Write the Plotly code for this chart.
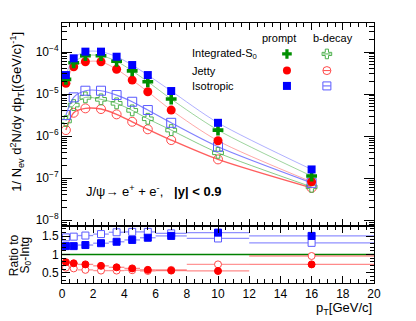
import plotly.graph_objects as go

# ---------------- data ----------------
pt = [0.25, 0.75, 1.5, 2.5, 3.5, 4.5, 5.5, 7.0, 10.0, 16.0]
pt_halfwidth = [0.25, 0.25, 0.5, 0.5, 0.5, 0.5, 0.5, 1.0, 2.0, 4.0]

iso_prompt = [2.83e-5, 7.08e-5, 1.02e-4, 1.02e-4, 7.73e-5, 4.90e-5, 2.83e-5, 1.18e-5, 2.07e-6, 1.61e-7]
int_prompt = [2.24e-5, 5.56e-5, 8.17e-5, 8.17e-5, 6.01e-5, 3.56e-5, 1.96e-5, 7.60e-6, 1.39e-6, 1.12e-7]
jet_prompt = [1.80e-5, 4.47e-5, 5.87e-5, 5.87e-5, 3.89e-5, 2.15e-5, 1.135e-5, 4.16e-6, 7.73e-7, 8.17e-8]

iso_b = [3.16e-6, 8.34e-6, 1.20e-5, 1.20e-5, 9.46e-6, 6.56e-6, 4.16e-6, 2.07e-6, 5.56e-7, 7.73e-8]
int_b = [2.28e-6, 5.47e-6, 8.34e-6, 7.48e-6, 6.01e-6, 4.09e-6, 2.58e-6, 1.39e-6, 4.00e-7, 6.20e-8]
jet_b = [1.39e-6, 3.59e-6, 4.57e-6, 4.40e-6, 3.29e-6, 2.19e-6, 1.45e-6, 8.04e-7, 2.79e-7, 5.87e-8]

ratio_iso_prompt = [1.23, 1.23, 1.26, 1.31, 1.35, 1.40, 1.46, 1.51, 1.60, 1.51]
ratio_iso_b = [1.47, 1.49, 1.52, 1.56, 1.61, 1.62, 1.62, 1.58, 1.44, 1.32]
ratio_jet_prompt = [0.79, 0.76, 0.73, 0.69, 0.65, 0.62, 0.58, 0.56, 0.55, 0.73]
ratio_jet_b = [0.64, 0.62, 0.58, 0.56, 0.56, 0.57, 0.55, 0.58, 0.73, 0.96]

x_ticks = [0, 2, 4, 6, 8, 10, 12, 14, 16, 18, 20]
y_ticks = [1e-8, 1e-7, 1e-6, 1e-5, 1e-4]
y_ticktext = ["10<sup>−8</sup>", "10<sup>−7</sup>", "10<sup>−6</sup>", "10<sup>−5</sup>", "10<sup>−4</sup>"]
r_ticks = [0.5, 1.0, 1.5]
r_ticktext = ["0.5", "1", "1.5"]

# ---------------- styles ----------------
FONT = "Liberation Sans, Arial, sans-serif"
BLUE, GREEN, RED = "#0000ff", "#008f00", "#ff0000"
BLUE_O, GREEN_O, RED_O = "#5a5aff", "#4cb04c", "#ff4a4a"

fig = go.Figure()

def upper(y, sym, col, lcol, size, lw=1.0, mlw=0):
    fig.add_trace(go.Scatter(
        x=pt, y=y, mode="lines+markers", xaxis="x", yaxis="y",
        line=dict(color=lcol, width=lw, shape="spline", smoothing=0.8),
        marker=dict(symbol=sym, size=size, color=col,
                    line=dict(color=col, width=mlw)),
        showlegend=False, hoverinfo="skip"))

upper(jet_b, "circle-open", RED_O, "rgba(255,40,40,0.75)", 9, 1.4, 1)
upper(int_b, "cross-open", GREEN_O, "rgba(40,160,40,0.55)", 9, 1.0, 1)
upper(iso_b, "square-open", BLUE_O, "rgba(60,60,255,0.65)", 9, 1.2, 1)
upper(jet_prompt, "circle", RED, "rgba(255,60,60,0.45)", 9, 1.0)
upper(int_prompt, "cross", GREEN, "rgba(40,160,40,0.45)", 9, 1.0)
upper(iso_prompt, "square", BLUE, "rgba(80,80,255,0.45)", 8, 1.0)

def lower(y, sym, col, fill, ecol, size):
    fig.add_trace(go.Scatter(
        x=pt, y=y, mode="markers", xaxis="x2", yaxis="y2",
        error_x=dict(type="data", array=pt_halfwidth, color=ecol, thickness=1.3, width=0),
        marker=dict(symbol=sym, size=size, color=fill, line=dict(color=col, width=1)),
        showlegend=False, hoverinfo="skip"))

fig.add_trace(go.Scatter(x=[x_ticks[0], x_ticks[-1]], y=[1, 1], mode="lines",
                         xaxis="x2", yaxis="y2", line=dict(color="#008000", width=1.5),
                         showlegend=False, hoverinfo="skip"))
lower(ratio_jet_b, "circle", RED_O, "white", "rgba(255,80,80,0.6)", 7)
lower(ratio_jet_prompt, "circle", RED, RED, "rgba(255,60,60,0.6)", 7)
lower(ratio_iso_b, "square", BLUE_O, "white", "rgba(70,70,255,0.6)", 7)
lower(ratio_iso_prompt, "square", BLUE, BLUE, "rgba(70,70,255,0.6)", 7)

# legend (on an invisible unit axis)
leg_x = [0.721, 0.849]
leg_y = [0.881, 0.817, 0.758]
legend_syms = [("cross", GREEN, "cross-open", GREEN_O),
               ("circle", RED, "circle-open", RED_O),
               ("square", BLUE, "square-open", BLUE_O)]
for row, (s1, c1, s2, c2) in enumerate(legend_syms):
    fig.add_trace(go.Scatter(x=[leg_x[0]], y=[leg_y[row]], mode="markers", xaxis="x3", yaxis="y3",
                             marker=dict(symbol=s1, size=8, color=c1), showlegend=False, hoverinfo="skip"))
    fig.add_trace(go.Scatter(x=[leg_x[1] - 0.012, leg_x[1] + 0.012], y=[leg_y[row]] * 2, mode="lines",
                             xaxis="x3", yaxis="y3", line=dict(color=c2, width=1),
                             showlegend=False, hoverinfo="skip"))
    fig.add_trace(go.Scatter(x=[leg_x[1]], y=[leg_y[row]], mode="markers", xaxis="x3", yaxis="y3",
                             marker=dict(symbol=s2, size=8, color=c2, line=dict(width=1)),
                             showlegend=False, hoverinfo="skip"))

axis_common = dict(showline=True, linecolor="black", linewidth=1, mirror="allticks",
                   ticks="inside", tickcolor="black", showgrid=False, zeroline=False,
                   automargin=False,
                   tickfont=dict(family=FONT, size=12, color="black"))

# the page body adds an 8px offset, so the figure is 8px smaller and margins shifted
fig.update_layout(
    width=408, height=313,
    margin=dict(l=54, r=42, t=15, b=38, autoexpand=False),
    paper_bgcolor="white", plot_bgcolor="rgba(0,0,0,0)",
    font=dict(family=FONT, size=12, color="black"),
    xaxis=dict(domain=[0, 1], anchor="y", range=[0, 20], tickvals=x_ticks, showticklabels=False,
               ticklen=7, minor=dict(ticks="inside", dtick=0.5, ticklen=4, tickcolor="black"),
               **axis_common),
    yaxis=dict(domain=[0.219, 1], anchor="x", type="log", range=[-8.14, -3.31],
               tickvals=y_ticks, ticktext=y_ticktext, ticklen=10,
               minor=dict(ticks="inside", ticklen=5, tickcolor="black",
                          tickvals=[m * 10 ** e for e in range(-9, -3) for m in range(2, 10)]),
               **axis_common),
    xaxis2=dict(domain=[0, 1], anchor="y2", range=[0, 20], tickvals=x_ticks, ticklen=7,
                minor=dict(ticks="inside", dtick=0.5, ticklen=4, tickcolor="black"),
                **axis_common),
    yaxis2=dict(domain=[0, 0.219], anchor="x2", range=[0.22, 1.78], tickvals=r_ticks,
                ticktext=r_ticktext, ticklen=8,
                minor=dict(ticks="inside", dtick=0.1, ticklen=4, tickcolor="black"),
                **axis_common),
    xaxis3=dict(domain=[0, 1], anchor="y3", range=[0, 1], visible=False, fixedrange=True),
    yaxis3=dict(domain=[0, 1], anchor="x3", range=[0, 1], visible=False, fixedrange=True),
)

ann = []
ann.append(dict(text="1/ N<sub>ev</sub> d<sup>2</sup>N/dy dp<sub>T</sub>[(GeV/c)<sup>-1</sup>]",
                xref="paper", yref="paper", x=-0.143, y=0.66, textangle=-90,
                showarrow=False, font=dict(size=13, family=FONT), xanchor="center", yanchor="middle"))
ann.append(dict(text="Ratio to", xref="paper", yref="paper", x=-0.153, y=0.108,
                textangle=-90, showarrow=False, font=dict(size=12, family=FONT),
                xanchor="center", yanchor="middle"))
ann.append(dict(text="S<sub>0</sub>-Intg", xref="paper", yref="paper", x=-0.117, y=0.108,
                textangle=-90, showarrow=False, font=dict(size=12, family=FONT),
                xanchor="center", yanchor="middle"))
ann.append(dict(text="p<sub>T</sub>[GeV/c]", xref="paper", yref="paper", x=1.0, y=-0.057,
                showarrow=False, font=dict(size=13, family=FONT), xanchor="right", yanchor="top"))
ann.append(dict(text="J/ψ→ e<sup>+</sup> + e<sup>-</sup>,   <b>|y| &lt; 0.9</b>",
                xref="paper", yref="paper", x=0.07, y=0.353, showarrow=False,
                font=dict(size=13, family=FONT), xanchor="left", yanchor="middle"))
ann.append(dict(text="prompt", xref="paper", yref="paper", x=0.697, y=0.942, showarrow=False,
                font=dict(size=11, family=FONT), xanchor="center", yanchor="middle"))
ann.append(dict(text="b-decay", xref="paper", yref="paper", x=0.869, y=0.942, showarrow=False,
                font=dict(size=11, family=FONT), xanchor="center", yanchor="middle"))
for row, name in enumerate(["Integrated-S<sub>0</sub>", "Jetty", "Isotropic"]):
    ann.append(dict(text=name, xref="paper", yref="paper", x=0.41, y=leg_y[row], showarrow=False,
                    font=dict(size=11, family=FONT), xanchor="left", yanchor="middle"))
fig.update_layout(annotations=ann)

fig.write_html("out.html")
